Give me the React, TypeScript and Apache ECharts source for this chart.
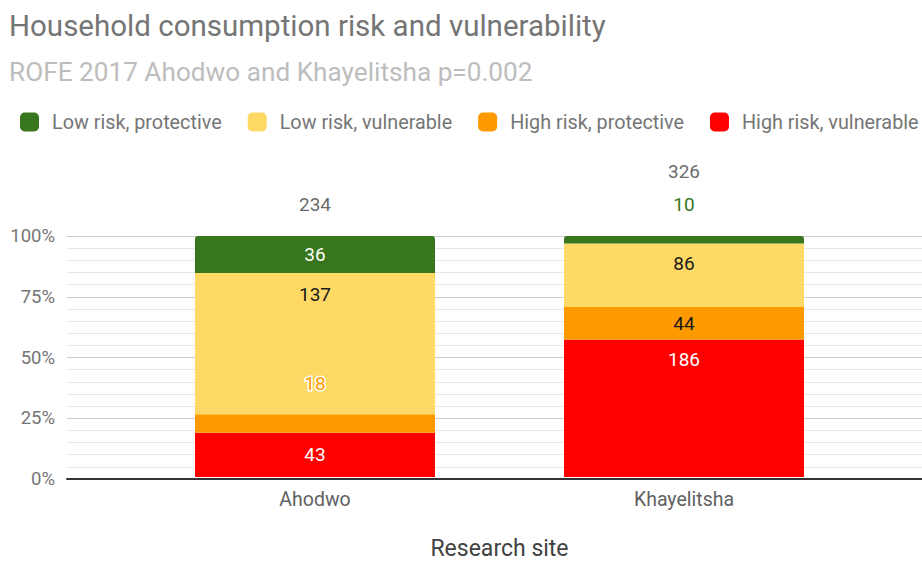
import React, { useEffect, useRef } from "react";
import * as echarts from "echarts";

const categories = ["Ahodwo", "Khayelitsha"];
const highRiskVulnerable = [43, 186];
const highRiskProtective = [18, 44];
const lowRiskVulnerable = [137, 86];
const lowRiskProtective = [36, 10];
const yTicks = [0, 25, 50, 75, 100];

const totals = categories.map(
  (_, i) => highRiskVulnerable[i] + highRiskProtective[i] + lowRiskVulnerable[i] + lowRiskProtective[i]
);

const FONT = "Roboto";

export default function App() {
  const ref = useRef<HTMLDivElement>(null);
  useEffect(() => {
    if (!ref.current) return;
    const chart = echarts.init(ref.current, null, { renderer: "svg" });
    const pct = (arr: number[]) => arr.map((v, i) => (v / totals[i]) * 100);

    const mkData = (arr: number[], labels: any[]) =>
      pct(arr).map((p, i) => ({ value: p, raw: arr[i], label: labels[i] }));

    const baseLabel = { show: true, fontFamily: FONT, fontSize: 19, formatter: (p: any) => String(p.data.raw) };

    const option: any = {
      animation: false,
      backgroundColor: "#ffffff",
      textStyle: { fontFamily: FONT },
      title: [
        {
          text: "Household consumption risk and vulnerability",
          left: 9,
          top: 11,
          padding: 0,
          textStyle: { fontFamily: FONT, fontSize: 29.5, fontWeight: "normal", color: "#757575" },
        },
        {
          text: "ROFE 2017 Ahodwo and Khayelitsha p=0.002",
          left: 9,
          top: 59,
          padding: 0,
          textStyle: { fontFamily: FONT, fontSize: 26.2, fontWeight: "normal", color: "#bdbdbd" },
        },
      ],
      legend: {
        data: ["Low risk, protective", "Low risk, vulnerable", "High risk, protective", "High risk, vulnerable"],
        left: 20,
        top: 112,
        padding: 0,
        itemWidth: 19,
        itemHeight: 19,
        itemGap: 26,
        icon: "roundRect",
        textStyle: { fontFamily: FONT, fontSize: 19.8, color: "#757575", padding: [0, 0, 0, 8] },
      },
      grid: [
        { left: 67, right: 0, top: 236, bottom: 82 },
        { left: 130.5, right: 53.5, top: 236, bottom: 82 },
      ],
      xAxis: [
        {
          gridIndex: 0,
          type: "value",
          min: 0,
          max: 1,
          axisLabel: { show: false },
          axisTick: { show: false },
          splitLine: { show: false },
          axisLine: { show: true, onZero: false, lineStyle: { color: "#333333", width: 2 } },
          z: 10,
        },
        {
          gridIndex: 1,
          type: "category",
          data: categories,
          axisLine: { show: false },
          axisTick: { show: false },
          axisLabel: { fontFamily: FONT, fontSize: 19.5, color: "#616161", margin: 12 },
          name: "Research site",
          nameLocation: "middle",
          nameGap: 60,
          nameTextStyle: { fontFamily: FONT, fontSize: 23, color: "#424242" },
        },
      ],
      yAxis: [
        {
          gridIndex: 0,
          type: "value",
          min: yTicks[0],
          max: yTicks[yTicks.length - 1],
          interval: 25,
          axisLine: { show: false },
          axisTick: { show: false },
          axisLabel: { fontFamily: FONT, fontSize: 18.5, color: "#757575", margin: 12, formatter: "{value}%" },
          splitLine: { show: true, lineStyle: { color: "#cccccc", width: 1 } },
          minorTick: { show: false, splitNumber: 5 },
          minorSplitLine: { show: true, lineStyle: { color: "#e6e6e6", width: 1 } },
        },
        {
          gridIndex: 1,
          type: "value",
          min: 0,
          max: 100,
          show: false,
          splitLine: { show: false },
        },
      ],
      series: [
        {
          name: "High risk, vulnerable",
          type: "bar",
          xAxisIndex: 1,
          yAxisIndex: 1,
          stack: "s",
          barWidth: 240,
          itemStyle: { color: "#ff0000" },
          label: { ...baseLabel, color: "#ffffff" },
          data: mkData(highRiskVulnerable, [
            { position: "inside" },
            { position: "insideTop", distance: 11 },
          ]),
        },
        {
          name: "High risk, protective",
          type: "bar",
          xAxisIndex: 1,
          yAxisIndex: 1,
          stack: "s",
          barWidth: 240,
          itemStyle: { color: "#ff9900" },
          label: { ...baseLabel, color: "#1a1a1a" },
          data: mkData(highRiskProtective, [
            { position: "top", distance: 21, color: "#ff9900", textBorderColor: "#ffffff", textBorderWidth: 3 },
            { position: "inside" },
          ]),
        },
        {
          name: "Low risk, vulnerable",
          type: "bar",
          xAxisIndex: 1,
          yAxisIndex: 1,
          stack: "s",
          barWidth: 240,
          itemStyle: { color: "#ffd966" },
          label: { ...baseLabel, color: "#1a1a1a" },
          data: mkData(lowRiskVulnerable, [
            { position: "insideTop", distance: 12 },
            { position: "insideTop", distance: 11 },
          ]),
        },
        {
          name: "Low risk, protective",
          type: "bar",
          xAxisIndex: 1,
          yAxisIndex: 1,
          stack: "s",
          barWidth: 240,
          itemStyle: { color: "#38761d", borderRadius: [3, 3, 0, 0] },
          label: { ...baseLabel, color: "#ffffff" },
          data: mkData(lowRiskProtective, [
            { position: "inside" },
            { position: "top", distance: 22, color: "#38761d" },
          ]),
        },
        {
          name: "Total",
          type: "scatter",
          xAxisIndex: 1,
          yAxisIndex: 1,
          symbol: "circle",
          symbolSize: 1,
          silent: true,
          itemStyle: { color: "rgba(0,0,0,0)" },
          label: { ...baseLabel, color: "#424242", position: "top" },
          data: totals.map((t, i) => ({
            value: 100,
            raw: t,
            label: { distance: i === 0 ? 22 : 55 },
          })),
        },
      ],
    };
    chart.setOption(option);
    return () => chart.dispose();
  }, []);

  return <div ref={ref} style={{ width: 922, height: 561, position: "absolute", left: 0, top: 0 }} />;
}
